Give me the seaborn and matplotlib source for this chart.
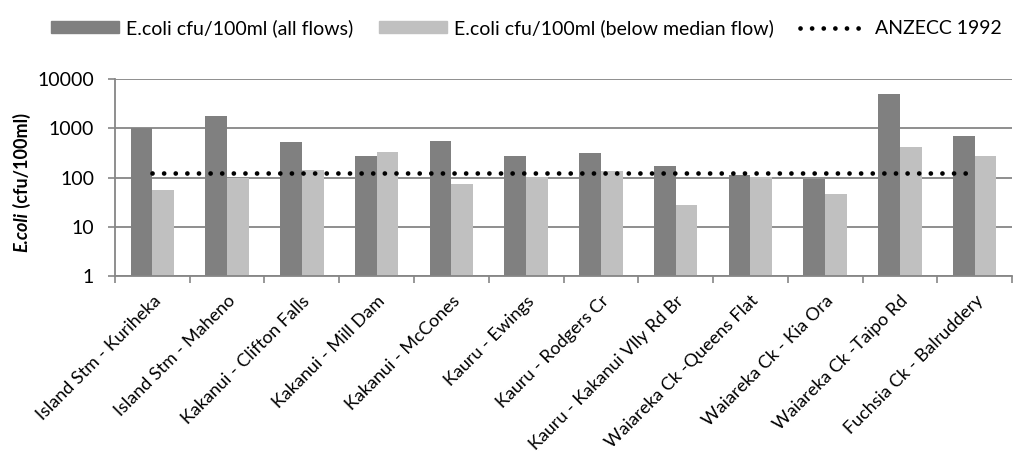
import numpy as np
import pandas as pd
import seaborn as sns
import matplotlib.pyplot as plt
from matplotlib.patches import Patch
from matplotlib.lines import Line2D

sns.set_theme(style='white')
plt.rcParams['font.family'] = ['Lato', 'DejaVu Sans']
plt.rcParams['text.color'] = 'black'
plt.rcParams['xtick.color'] = 'black'
plt.rcParams['ytick.color'] = 'black'

sites = ['Island Stm - Kuriheka', 'Island Stm - Maheno', 'Kakanui - Clifton Falls',
         'Kakanui - Mill Dam', 'Kakanui - McCones', 'Kauru - Ewings', 'Kauru - Rodgers Cr',
         'Kauru - Kakanui Vlly Rd Br', 'Waiareka Ck -Queens Flat', 'Waiareka Ck - Kia Ora',
         'Waiareka Ck -Taipo Rd', 'Fuchsia Ck - Balruddery']
all_flows = [1030, 1800, 530, 270, 560, 280, 320, 175, 112, 95, 5000, 700]
below_median = [57, 100, 140, 330, 73, 105, 135, 28, 105, 46, 410, 280]
anzecc = 126

series = ['E.coli cfu/100ml (all flows)', 'E.coli cfu/100ml (below median flow)']
colors = ['#808080', '#c0c0c0']
grid_col = '#868686'
dots = (0, (0.01, 2.45))

df = pd.DataFrame({'site': sites, series[0]: all_flows, series[1]: below_median})
df = df.melt(id_vars='site', var_name='series', value_name='ecoli')

fig = plt.figure(figsize=(10.24, 4.57), dpi=100)
ax = fig.add_axes([0.1123, 0.396, 0.876, 0.431])

sns.barplot(data=df, x='site', y='ecoli', hue='series', palette=colors,
            width=0.58, gap=0, saturation=1, ax=ax, legend=False, edgecolor='none')
ax.set_yscale('log')
ax.set_ylim(1, 10000)
ax.set_xlim(-0.5, len(sites) - 0.5)

# guideline value
ax.plot(np.arange(len(sites)), [anzecc] * len(sites), color='black', lw=3.4,
        linestyle=dots, dash_capstyle='round', zorder=5)

ax.set_yticks([1, 10, 100, 1000, 10000])
ax.set_yticklabels(['1', '10', '100', '1000', '10000'], fontsize=14)
ax.yaxis.grid(True, color=grid_col, lw=1.3)
ax.set_axisbelow(True)
ax.minorticks_off()
ax.tick_params(axis='y', which='major', left=True, length=5, color=grid_col, width=1.2, pad=10)

ax.set_xticks(np.arange(len(sites)))
ax.set_xticklabels(sites, rotation=45, ha='right', rotation_mode='anchor', fontsize=13)
ax.tick_params(axis='x', which='major', length=0, pad=12)
ax.set_xticks(np.arange(len(sites) + 1) - 0.5, minor=True)
ax.tick_params(axis='x', which='minor', bottom=True, length=5, color=grid_col, width=1.2)

for s in ['top', 'right']:
    ax.spines[s].set_visible(False)
for s in ['left', 'bottom']:
    ax.spines[s].set_color(grid_col)
    ax.spines[s].set_linewidth(1.3)

ax.set_xlabel('')
ax.set_ylabel('')
t1 = fig.text(0.0215, 0.449, 'E.coli', rotation=90, style='italic', weight='bold',
              fontsize=13, ha='center', va='bottom')
ax.annotate(' (cfu/100ml)', xy=(0.5, 1), xycoords=t1, rotation=90, weight='bold',
            fontsize=13, ha='center', va='bottom')

handles = [Patch(color=colors[0]), Patch(color=colors[1]),
           Line2D([], [], color='black', lw=3.4, linestyle=dots, dash_capstyle='round')]
labels = series + ['ANZECC 1992']
fig.legend(handles, labels, loc='center', bbox_to_anchor=(0.514, 0.938), ncol=3,
           frameon=False, fontsize=14, handlelength=3.5, handleheight=0.57,
           columnspacing=1.34, handletextpad=0.36)

fig.savefig('out.png', dpi=100)
